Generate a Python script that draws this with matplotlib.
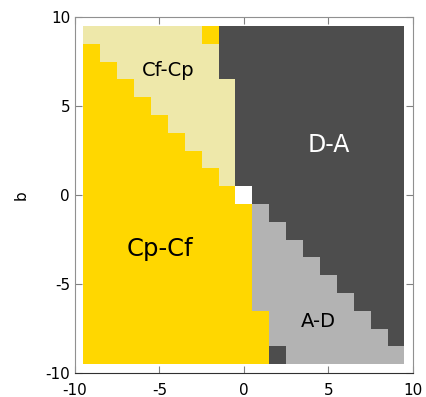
import numpy as np
import matplotlib
matplotlib.use("Agg")
import matplotlib.pyplot as plt
from matplotlib.colors import ListedColormap

plt.rcParams["axes.unicode_minus"] = False

# grid of outcomes, rows b = 9 .. -9, columns a = -9 .. 9
# Y = Cp-Cf, K = Cf-Cp, D = D-A, G = A-D, W = none
a_vals = [-9, -8, -7, -6, -5, -4, -3, -2, -1, 0, 1, 2, 3, 4, 5, 6, 7, 8, 9]
b_vals = [9, 8, 7, 6, 5, 4, 3, 2, 1, 0, -1, -2, -3, -4, -5, -6, -7, -8, -9]
rows = [
    "KKKKKKKYDDDDDDDDDDD",
    "YKKKKKKKDDDDDDDDDDD",
    "YYKKKKKKDDDDDDDDDDD",
    "YYYKKKKKKDDDDDDDDDD",
    "YYYYKKKKKDDDDDDDDDD",
    "YYYYYKKKKDDDDDDDDDD",
    "YYYYYYKKKDDDDDDDDDD",
    "YYYYYYYKKDDDDDDDDDD",
    "YYYYYYYYKDDDDDDDDDD",
    "YYYYYYYYYWDDDDDDDDD",
    "YYYYYYYYYYGDDDDDDDD",
    "YYYYYYYYYYGGDDDDDDD",
    "YYYYYYYYYYGGGDDDDDD",
    "YYYYYYYYYYGGGGDDDDD",
    "YYYYYYYYYYGGGGGDDDD",
    "YYYYYYYYYYGGGGGGDDD",
    "YYYYYYYYYYYGGGGGGDD",
    "YYYYYYYYYYYGGGGGGGD",
    "YYYYYYYYYYYDGGGGGGG",
]
codes = {"Y": 0, "K": 1, "D": 2, "G": 3, "W": 4}
colors = ["#ffd700", "#eee8aa", "#4d4d4d", "#b3b3b3", "#ffffff"]

labels = ["Cf-Cp", "D-A", "Cp-Cf", "A-D"]
label_pos = [(-4.5, 7.0), (5.0, 2.8), (-5.0, -3.0), (4.4, -7.1)]
label_col = ["black", "white", "black", "black"]
label_size = [14, 17, 17.5, 14]

grid = np.array([[codes[c] for c in r] for r in rows])
x_edges = [a - 0.5 for a in a_vals] + [a_vals[-1] + 0.5]
y_edges = [b + 0.5 for b in b_vals] + [b_vals[-1] - 0.5]

fig = plt.figure(figsize=(4.27, 3.97), dpi=100)
ax = fig.add_axes([0.1756, 0.060, 0.7914, 0.897])
ax.pcolormesh(x_edges, y_edges, grid, cmap=ListedColormap(colors), vmin=-0.5, vmax=4.5)

for t, (x, y), c, s in zip(labels, label_pos, label_col, label_size):
    ax.text(x, y, t, color=c, fontsize=s, ha="center", va="center")

ax.set_xlim(-10, 10)
ax.set_ylim(-10, 10)
ax.set_xticks([-10, -5, 0, 5, 10])
ax.set_yticks([-10, -5, 0, 5, 10])
ax.tick_params(direction="in", top=True, right=True, labelsize=11, color="#808080", length=5)
ax.tick_params(axis="x", pad=7)
for s in ax.spines.values():
    s.set_color("#909090")
ax.spines["bottom"].set_color("#303030")
ax.set_ylabel("b", fontsize=11, labelpad=12)

fig.savefig("out.png", dpi=100)
